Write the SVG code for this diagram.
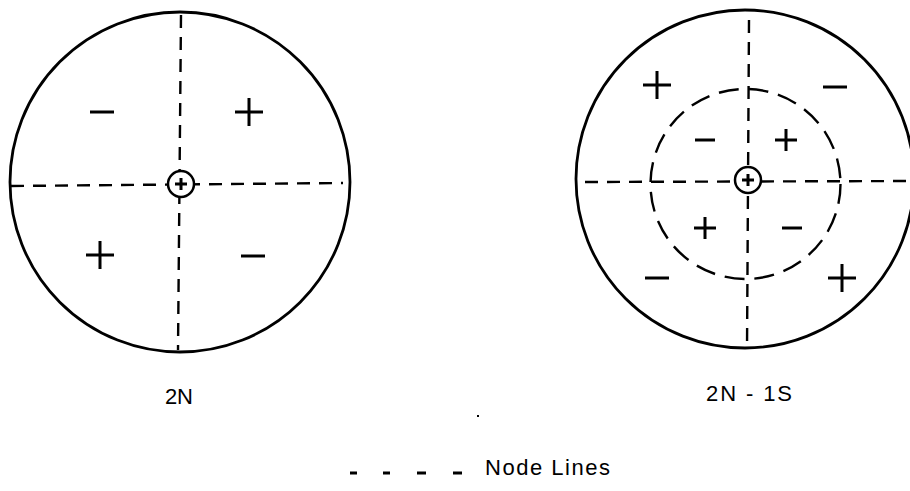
<svg xmlns="http://www.w3.org/2000/svg" width="910" height="491" viewBox="0 0 910 491">
<style>
.outer{fill:none;stroke:#000;stroke-width:2.8}
.node{fill:none;stroke:#000;stroke-width:2.4;stroke-dasharray:13 9}
.ring{fill:none;stroke:#000;stroke-width:2.4;stroke-dasharray:20 10}
.sign{stroke:#000;stroke-width:3;stroke-linecap:butt;fill:none}
.hub{fill:none;stroke:#000;stroke-width:2.5}
.lbl{font-family:"Liberation Sans",Arial,sans-serif;font-size:22px;fill:#000}
</style>
<defs>
<path id="plus" class="sign" d="M-14 0H14M0 -14V14"/>
<path id="minus" class="sign" d="M-12 0H12"/>
<path id="splus" class="sign" d="M-11 0H11M0 -11V11"/>
<path id="sminus" class="sign" d="M-10 0H10"/>
</defs>
<g id="mode-2N">
<circle class="outer" cx="180" cy="182" r="170"/>
<g id="nodelines-2N">
<line class="node" x1="11" y1="186" x2="343" y2="183"/>
<line class="node" x1="181" y1="15" x2="178" y2="350"/>
</g>
<circle cx="181" cy="184" r="14" fill="#fff" stroke="none"/>
<circle class="hub" cx="181" cy="184" r="13"/>
<path class="sign" d="M175 184H187M181 178V190" stroke-width="2.5"/>
<use href="#minus" x="102" y="112"/>
<use href="#plus" x="249" y="112"/>
<use href="#plus" x="100" y="255"/>
<use href="#minus" x="253" y="256"/>
<text class="lbl" x="165" y="404" textLength="28">2N</text>
</g>
<g id="mode-2N-1S">
<circle class="outer" cx="745" cy="179" r="169"/>
<g id="nodelines-2N-1S">
<line class="node" x1="585" y1="182" x2="910" y2="181"/>
<line class="node" x1="749" y1="20" x2="747" y2="350"/>
<circle class="ring" cx="745.5" cy="184" r="95"/>
</g>
<circle cx="748" cy="180" r="14" fill="#fff" stroke="none"/>
<circle class="hub" cx="748" cy="180" r="13"/>
<path class="sign" d="M742 180H754M748 174V186" stroke-width="2.5"/>
<use href="#plus" x="657" y="85"/>
<use href="#minus" x="835" y="87"/>
<use href="#sminus" x="705" y="140"/>
<use href="#splus" x="786" y="140"/>
<use href="#splus" x="705" y="228"/>
<use href="#sminus" x="792" y="228"/>
<use href="#minus" x="657" y="278"/>
<use href="#plus" x="842" y="278"/>
<text class="lbl" x="706" y="401" textLength="86">2N - 1S</text>
</g>
<rect x="477" y="415" width="2" height="2" fill="#000"/>
<g id="legend">
<path class="sign" d="M350 473H357M383 473H390M417 473H426M453 473H462" stroke-width="2.5"/>
<text class="lbl" x="485" y="475" textLength="125">Node Lines</text>
</g>
</svg>
